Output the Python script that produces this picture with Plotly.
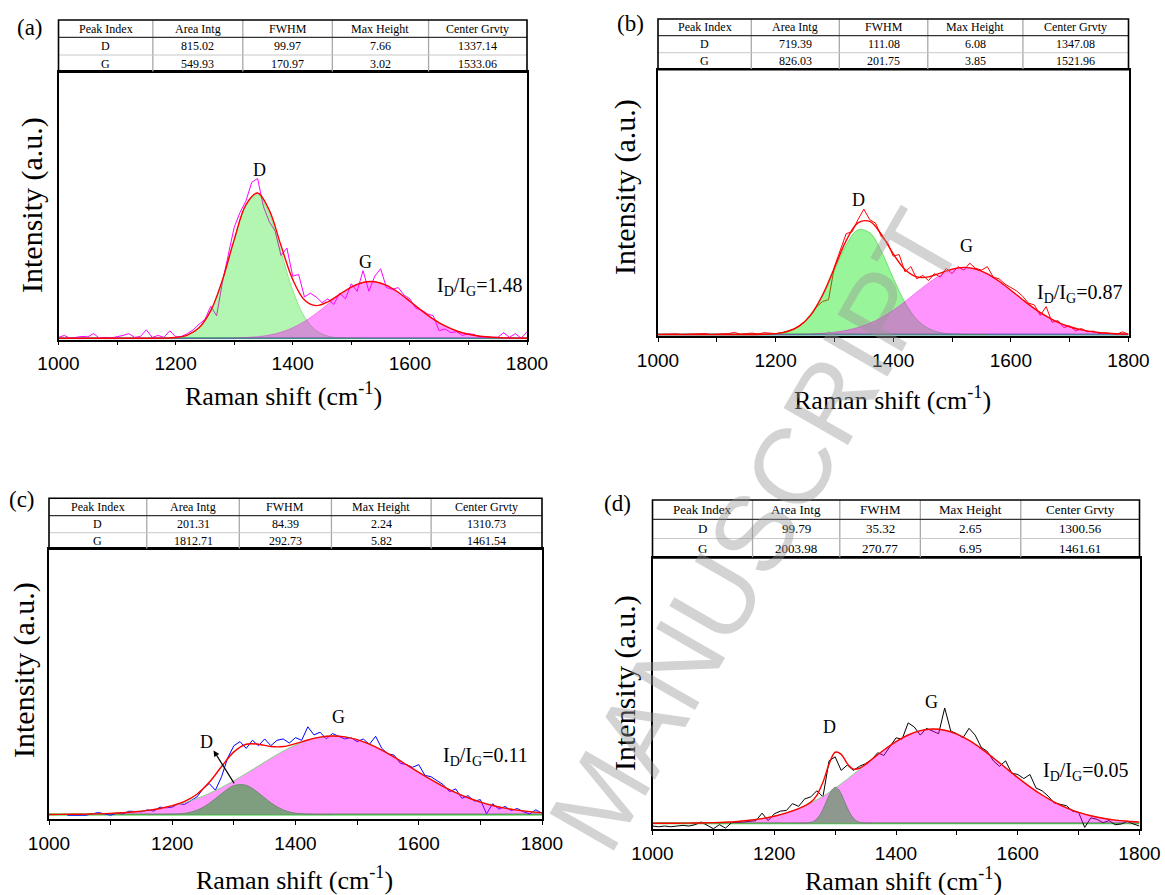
import plotly.graph_objects as go

W, H = 1165, 895

# ---------------- data ----------------
table_headers = ["Peak Index", "Area Intg", "FWHM", "Max Height", "Center Grvty"]
peak_names = ["D", "G"]
table_a = [["815.02", "99.97", "7.66", "1337.14"], ["549.93", "170.97", "3.02", "1533.06"]]
table_b = [["719.39", "111.08", "6.08", "1347.08"], ["826.03", "201.75", "3.85", "1521.96"]]
table_c = [["201.31", "84.39", "2.24", "1310.73"], ["1812.71", "292.73", "5.82", "1461.54"]]
table_d = [["99.79", "35.32", "2.65", "1300.56"], ["2003.98", "270.77", "6.95", "1461.61"]]

panel_letters = ["(a)", "(b)", "(c)", "(d)"]
ratio_texts = ["I<sub>D</sub>/I<sub>G</sub>=1.48", "I<sub>D</sub>/I<sub>G</sub>=0.87",
               "I<sub>D</sub>/I<sub>G</sub>=0.11", "I<sub>D</sub>/I<sub>G</sub>=0.05"]
x_title = "Raman shift (cm<sup>-1</sup>)"
y_title = "Intensity (a.u.)"
x_tick_vals = [1000, 1100, 1200, 1300, 1400, 1500, 1600, 1700, 1800]
x_tick_text = ["1000", "", "1200", "", "1400", "", "1600", "", "1800"]

raw_x = list(range(1000, 1801, 10))
peak_x = list(range(1000, 1801, 20))

# panel (a)
raw_a = [0.05, 0.15, 0.00, 0.05, 0.10, 0.08, 0.25, 0.00, 0.05, 0.02,
         0.08, 0.15, 0.25, 0.05, 0.10, 0.45, 0.05, 0.15, 0.05, 0.40,
         0.08, 0.10, 0.25, 0.45, 0.75, 1.00, 1.70, 1.20, 3.00, 4.50,
         5.90, 6.70, 7.30, 8.30, 8.50, 7.00, 6.20, 5.70, 4.40, 4.80,
         3.30, 3.40, 2.20, 2.40, 2.20, 1.90, 2.10, 1.80, 2.40, 2.10,
         2.90, 2.50, 3.60, 2.50, 3.30, 3.70, 2.70, 2.60, 2.70, 2.30,
         2.10, 1.60, 1.50, 1.30, 1.20, 0.40, 0.50, 0.30, 0.35, 0.15,
         0.25, 0.20, 0.05, 0.10, 0.05, 0.05, 0.30, 0.05, 0.25, 0.00,
         0.35]
Dx_a = list(range(1160, 1521, 20))
Dy_a = [0.001, 0.008, 0.042, 0.171, 0.560, 1.470, 3.100, 5.230, 7.060, 7.640,
        6.630, 4.600, 2.560, 1.140, 0.410, 0.117, 0.027, 0.005, 0.0]
Gy_a = [0, 0, 0, 0, 0, 0, 0, 0, 0, 0, 0,
        0.001, 0.001, 0.003, 0.007, 0.017, 0.041, 0.088, 0.176, 0.327, 0.563,
        0.898, 1.328, 1.820, 2.312, 2.723, 2.971, 3.006, 2.819, 2.450, 1.974,
        1.474, 1.021, 0.655, 0.390, 0.215, 0.110, 0.052, 0.023, 0.009, 0.004]
fit_a = [0, 0, 0, 0, 0, 0, 0, 0, 0.001, 0.008, 0.042,
         0.171, 0.561, 1.473, 3.107, 5.247, 7.101, 7.728, 6.806, 4.927, 3.123,
         2.038, 1.738, 1.937, 2.339, 2.728, 2.971, 3.006, 2.819, 2.450, 1.974,
         1.474, 1.021, 0.655, 0.390, 0.215, 0.110, 0.052, 0.023, 0.009, 0.004]

# panel (b)
raw_b = [0.00, 0.02, 0.00, 0.03, 0.00, 0.02, 0.00, 0.03, 0.05, 0.00,
         0.02, 0.00, 0.05, 0.12, 0.02, 0.05, 0.08, 0.03, 0.10, 0.08,
         0.05, 0.10, 0.20, 0.30, 0.50, 0.75, 1.10, 1.60, 1.90, 2.00,
         3.90, 4.80, 5.80, 5.90, 6.60, 7.20, 6.60, 6.40, 5.60, 5.30,
         4.50, 4.60, 3.60, 3.90, 3.20, 3.40, 3.10, 3.50, 3.30, 3.80,
         3.50, 3.90, 3.70, 4.10, 3.80, 3.70, 3.90, 3.30, 3.20, 2.90,
         2.70, 2.50, 2.20, 1.80, 1.70, 1.10, 1.60, 0.70, 0.80, 0.40,
         0.50, 0.20, 0.35, 0.15, 0.20, 0.05, 0.10, 0.05, 0.02, 0.15,
         0.02]
Dx_b = list(range(1140, 1561, 20))
Dy_b = [0.0, 0.002, 0.011, 0.047, 0.161, 0.463, 1.106, 2.212, 3.695, 5.157, 6.012,
        5.856, 4.766, 3.241, 1.841, 0.874, 0.347, 0.115, 0.032, 0.007, 0.001, 0.0]
Gy_b = [0, 0, 0, 0, 0, 0, 0, 0,
        0.001, 0.001, 0.003, 0.008, 0.017, 0.036, 0.071, 0.134, 0.239, 0.404, 0.645,
        0.976, 1.398, 1.896, 2.436, 2.964, 3.415, 3.726, 3.849, 3.766, 3.488,
        3.060, 2.543, 2.000, 1.490, 1.051, 0.702, 0.444, 0.266, 0.151, 0.081,
        0.041, 0.020]
fit_b = [0, 0, 0, 0, 0, 0, 0, 0,
         0.003, 0.013, 0.050, 0.169, 0.480, 1.142, 2.283, 3.829, 5.396, 6.416, 6.501,
         5.742, 4.639, 3.737, 3.310, 3.311, 3.530, 3.758, 3.856, 3.767, 3.488,
         3.060, 2.543, 2.000, 1.490, 1.051, 0.702, 0.444, 0.266, 0.151, 0.081,
         0.041, 0.020]

# panel (c)
raw_c = [None, None, None, -0.05, -0.05, 0.00, -0.05, 0.05, 0.15, 0.05,
         -0.05, 0.10, 0.05, 0.25, 0.20, 0.20, 0.35, 0.25, 0.55, 0.50,
         0.55, 0.80, 0.75, 1.05, 1.30, 1.90, 2.30, 1.80, 2.80, 4.20,
         5.10, 5.40, 4.90, 5.50, 5.10, 5.60, 5.10, 5.50, 5.60, 5.30,
         5.70, 5.50, 6.50, 5.90, 6.10, 5.60, 6.00, 5.80, 5.60, 5.70,
         5.40, 5.60, 5.20, 5.80, 4.90, 4.50, 4.40, 3.80, 3.70, 3.50,
         3.70, 2.90, 2.80, 2.50, 2.20, 1.70, 1.90, 1.20, 1.40, 1.00,
         1.10, 0.05, 0.80, 0.40, 0.60, 0.30, 0.45, 0.20, 0.05, 0.35,
         0.10]
Dx_c = list(range(1160, 1461, 20))
Dy_c = [0.0, 0.003, 0.019, 0.091, 0.319, 0.822, 1.551, 2.142, 2.166, 1.605,
        0.871, 0.346, 0.101, 0.021, 0.003, 0.0]
Gy_c = [0.006, 0.011, 0.019, 0.032, 0.052, 0.085, 0.134, 0.205, 0.307, 0.448,
        0.637, 0.881, 1.189, 1.564, 2.004, 2.502, 3.044, 3.608, 4.170, 4.693,
        5.149, 5.504, 5.733, 5.820, 5.756, 5.548, 5.211, 4.769, 4.253, 3.696,
        3.130, 2.583, 2.077, 1.627, 1.243, 0.924, 0.670, 0.473, 0.326, 0.219,
        0.143]
fit_c = [0.006, 0.011, 0.019, 0.032, 0.052, 0.085, 0.134, 0.205, 0.307, 0.451,
         0.656, 0.972, 1.508, 2.386, 3.555, 4.644, 5.210, 5.213, 5.041, 5.039,
         5.250, 5.525, 5.736, 5.820, 5.756, 5.548, 5.211, 4.769, 4.253, 3.696,
         3.130, 2.583, 2.077, 1.627, 1.243, 0.924, 0.670, 0.473, 0.326, 0.219,
         0.143]

# panel (d)
raw_d = [-0.20, -0.25, -0.20, -0.25, -0.20, -0.15, -0.20, -0.10, 0.10, -0.15,
         -0.40, -0.10, -0.35, 0.05, 0.05, 0.10, 0.15, 0.20, 0.75, 0.20,
         0.70, 0.90, 0.95, 1.45, 1.25, 1.80, 1.95, 2.40, 1.95, 4.60,
         4.90, 3.90, 4.30, 3.90, 4.20, 4.40, 4.70, 5.20, 5.00, 5.70,
         6.30, 6.20, 7.40, 7.10, 6.50, 7.00, 6.80, 6.60, 8.50, 6.80,
         6.60, 6.30, 7.00, 6.50, 5.60, 5.30, 4.60, 4.20, 4.60, 3.70,
         3.60, 3.30, 3.60, 2.60, 2.40, 2.00, 1.50, 1.40, 1.30, 0.90,
         0.80, -0.30, 0.40, 0.30, 0.05, 0.20, -0.10, -0.05, 0.15, -0.05,
         -0.20]
Dx_d = list(range(1240, 1361, 5))
Dy_d = [0.001, 0.003, 0.009, 0.026, 0.068, 0.160, 0.333, 0.620, 1.036, 1.547,
        2.068, 2.474, 2.648, 2.536, 2.174, 1.667, 1.144, 0.703, 0.386, 0.190,
        0.084, 0.033, 0.012, 0.004, 0.001]
Gy_d = [0.002, 0.004, 0.008, 0.016, 0.028, 0.049, 0.084, 0.139, 0.223, 0.346,
        0.522, 0.765, 1.085, 1.494, 1.997, 2.588, 3.255, 3.973, 4.703, 5.403,
        6.021, 6.509, 6.828, 6.949, 6.862, 6.573, 6.109, 5.509, 4.819, 4.091,
        3.369, 2.691, 2.086, 1.569, 1.145, 0.810, 0.557, 0.371, 0.240, 0.150,
        0.091]
fit_x_d = [1000, 1020, 1040, 1060, 1080, 1100, 1120, 1140, 1160, 1180, 1200, 1220,
           1240, 1250, 1260, 1270, 1280, 1290, 1300, 1310, 1320, 1330, 1340, 1350, 1360,
           1380, 1400, 1420, 1440, 1460, 1480, 1500, 1520, 1540, 1560, 1580, 1600,
           1620, 1640, 1660, 1680, 1700, 1720, 1740, 1760, 1780, 1800]
fit_d = [0.002, 0.004, 0.008, 0.016, 0.028, 0.049, 0.084, 0.139, 0.223, 0.346, 0.522, 0.765,
         1.086, 1.290, 1.562, 2.068, 3.033, 4.348, 5.236, 5.084, 4.399, 3.996, 4.057, 4.342, 4.704,
         5.403, 6.021, 6.509, 6.828, 6.949, 6.862, 6.573, 6.109, 5.509, 4.819, 4.091, 3.369,
         2.691, 2.086, 1.569, 1.145, 0.810, 0.557, 0.371, 0.240, 0.150, 0.091]

# label positions (data units)
label_D = [(1344, 8.93), (1341, 7.73), (1256, 5.34), (1291, 7.07)]
label_G = [(1525, 4.07), (1525, 5.08), (1470, 7.20), (1458, 8.93)]
label_R = [(1719, 2.75), (1717, 2.35), (1708, 4.30), (1712, 3.80)]

# ---------------- layout constants (pixels) ----------------
cfg = [
    dict(x0=58.5, x1=527.0, rows=[20.0, 37.3, 55.0, 72.3], axis_y=339.5, yr=[-0.064, 14.15],
         cols=[0.2014, 0.3934, 0.5845, 0.7899], letter=(30, 28), ytitle=(32, 205), xtitle=(283, 394), tf=12),
    dict(x0=658.0, x1=1128.5, rows=[19.0, 35.7, 52.7, 69.7], axis_y=336.0, yr=[-0.086, 15.22],
         cols=[0.1983, 0.3854, 0.5734, 0.7756], letter=(630, 24), ytitle=(625, 187), xtitle=(892, 398), tf=12),
    dict(x0=49.0, x1=542.0, rows=[498.3, 515.7, 532.7, 549.3], axis_y=819.0, yr=[-0.33, 19.65],
         cols=[0.1983, 0.3860, 0.5729, 0.7751], letter=(22, 499), ytitle=(24, 670), xtitle=(294, 878), tf=12),
    dict(x0=652.5, x1=1139.5, rows=[500.0, 519.3, 538.5, 558.0], axis_y=829.3, yr=[-0.44, 19.55],
         cols=[0.2054, 0.3846, 0.5500, 0.7562], letter=(617, 503), ytitle=(625, 683), xtitle=(903, 879), tf=13),
]

styles = [
    dict(raw="#ff00ff", Dfill="rgba(0,225,0,0.30)", Dline="rgba(0,200,0,0.35)",
         Gfill="rgba(255,0,255,0.40)", Gline="rgba(220,0,220,0.35)", base="rgb(50,150,140)", Dtop=False),
    dict(raw="#ff0000", Dfill="rgba(0,230,0,0.40)", Dline="rgba(0,200,0,0.45)",
         Gfill="rgba(255,0,255,0.42)", Gline="rgba(220,0,220,0.35)", base="rgb(50,150,140)", Dtop=False),
    dict(raw="#0000ff", Dfill="rgb(127,157,127)", Dline="rgb(110,140,110)",
         Gfill="rgba(255,0,255,0.40)", Gline="rgba(120,210,120,0.9)", base="rgb(40,205,40)", Dtop=True),
    dict(raw="#000000", Dfill="rgb(142,152,142)", Dline="rgb(125,135,125)",
         Gfill="rgba(255,0,255,0.40)", Gline="rgba(120,210,120,0.9)", base="rgb(60,200,60)", Dtop=True),
]

raws = [raw_a, raw_b, raw_c, raw_d]
Ds = [(Dx_a, Dy_a), (Dx_b, Dy_b), (Dx_c, Dy_c), (Dx_d, Dy_d)]
Gs = [Gy_a, Gy_b, Gy_c, Gy_d]
fits = [(peak_x, fit_a), (peak_x, fit_b), (peak_x, fit_c), (fit_x_d, fit_d)]
tables = [table_a, table_b, table_c, table_d]


def X(p):
    return p / W


def Y(p):
    return 1 - p / H


SERIF = "Liberation Serif"
SANS = "Liberation Sans"

fig = go.Figure()
shapes = []
annotations = []
layout_axes = {}

for i in range(4):
    c = cfg[i]
    s = styles[i]
    sfx = "" if i == 0 else str(i + 1)
    xa, ya = "x" + sfx, "y" + sfx

    fig.add_trace(go.Scatter(x=[1000, 1800], y=[0, 0], mode="lines",
                             line=dict(color=s["base"], width=2), xaxis=xa, yaxis=ya, hoverinfo="skip"))
    fig.add_trace(go.Scatter(x=raw_x, y=raws[i], mode="lines", line=dict(color=s["raw"], width=1),
                             xaxis=xa, yaxis=ya, connectgaps=False))
    Dtr = go.Scatter(x=Ds[i][0], y=Ds[i][1], mode="lines", fill="tozeroy", fillcolor=s["Dfill"],
                     line=dict(color=s["Dline"], width=1, shape="spline"), xaxis=xa, yaxis=ya)
    Gtr = go.Scatter(x=peak_x, y=Gs[i], mode="lines", fill="tozeroy", fillcolor=s["Gfill"],
                     line=dict(color=s["Gline"], width=1, shape="spline"), xaxis=xa, yaxis=ya)
    if s["Dtop"]:
        fig.add_trace(Gtr)
        fig.add_trace(Dtr)
    else:
        fig.add_trace(Dtr)
        fig.add_trace(Gtr)
    fig.add_trace(go.Scatter(x=fits[i][0], y=fits[i][1], mode="lines",
                             line=dict(color="#ff0000", width=1.4, shape="spline"), xaxis=xa, yaxis=ya))

    top, bottom = c["rows"][3], c["axis_y"]
    layout_axes["xaxis" + sfx] = dict(
        domain=[X(c["x0"]), X(c["x1"])], range=[1000, 1800], anchor=ya, automargin=False,
        showline=True, linecolor="black", linewidth=1.6, mirror=True,
        ticks="outside", ticklen=4, tickwidth=1.3, tickcolor="black",
        tickvals=x_tick_vals, ticktext=x_tick_text, showgrid=False, zeroline=False,
        tickfont=dict(family=SANS, size=19, color="black"), ticklabelstandoff=2)
    layout_axes["yaxis" + sfx] = dict(
        domain=[Y(bottom), Y(top)], range=c["yr"], anchor=xa, automargin=False,
        showline=True, linecolor="black", linewidth=1.6, mirror=True,
        showticklabels=False, ticks="", showgrid=False, zeroline=False)

    # ---- table ----
    x0, x1 = c["x0"], c["x1"]
    r = c["rows"]
    wdt = x1 - x0
    bounds = [x0] + [x0 + f * wdt for f in c["cols"]] + [x1]
    for cx in bounds[1:-1]:
        shapes.append(dict(type="line", xref="paper", yref="paper", x0=X(cx), x1=X(cx),
                           y0=Y(r[0]), y1=Y(r[3]), line=dict(color="#a8a8a8", width=1.3)))
    shapes.append(dict(type="line", xref="paper", yref="paper", x0=X(x0), x1=X(x1),
                       y0=Y(r[1]), y1=Y(r[1]), line=dict(color="#333333", width=1.2)))
    shapes.append(dict(type="line", xref="paper", yref="paper", x0=X(x0), x1=X(x1),
                       y0=Y(r[2]), y1=Y(r[2]), line=dict(color="#c8c8c8", width=1)))
    shapes.append(dict(type="rect", xref="paper", yref="paper", x0=X(x0), x1=X(x1),
                       y0=Y(r[3]), y1=Y(r[0]), line=dict(color="black", width=1.6)))
    rows_text = [table_headers] + [[peak_names[k]] + tables[i][k] for k in range(2)]
    for ri, row in enumerate(rows_text):
        yc = (r[ri] + r[ri + 1]) / 2
        for ci, txt in enumerate(row):
            xc = (bounds[ci] + bounds[ci + 1]) / 2
            annotations.append(dict(xref="paper", yref="paper", x=X(xc), y=Y(yc), text=txt,
                                    showarrow=False, xanchor="center", yanchor="middle",
                                    font=dict(family=SERIF, size=c["tf"], color="black")))

    annotations.append(dict(xref="paper", yref="paper", x=X(c["letter"][0]), y=Y(c["letter"][1]),
                            text=panel_letters[i], showarrow=False, xanchor="center", yanchor="middle",
                            font=dict(family=SERIF, size=23, color="black")))
    annotations.append(dict(xref="paper", yref="paper", x=X(c["ytitle"][0]), y=Y(c["ytitle"][1]),
                            text=y_title, showarrow=False, textangle=-90, xanchor="center", yanchor="middle",
                            font=dict(family=SERIF, size=30, color="black")))
    annotations.append(dict(xref="paper", yref="paper", x=X(c["xtitle"][0]), y=Y(c["xtitle"][1]),
                            text=x_title, showarrow=False, xanchor="center", yanchor="middle",
                            font=dict(family=SERIF, size=26, color="black")))
    for (lx, ly), txt in ((label_D[i], "D"), (label_G[i], "G")):
        annotations.append(dict(xref=xa, yref=ya, x=lx, y=ly, text=txt, showarrow=False,
                                xanchor="center", yanchor="middle",
                                font=dict(family=SERIF, size=18, color="black")))
    annotations.append(dict(xref=xa, yref=ya, x=label_R[i][0], y=label_R[i][1], text=ratio_texts[i],
                            showarrow=False, xanchor="center", yanchor="middle",
                            font=dict(family=SERIF, size=20, color="black")))

# arrow in panel (c) pointing to the D label
annotations.append(dict(xref="x3", yref="y3", x=1267, y=4.75, ax=1302, ay=2.2, axref="x3", ayref="y3",
                        text="", showarrow=True, arrowhead=2, arrowsize=1, arrowwidth=1.2,
                        arrowcolor="black"))

# watermark
annotations.append(dict(xref="paper", yref="paper", x=X(755), y=Y(530), text="MANUSCRIPT",
                        showarrow=False, textangle=-60, xanchor="center", yanchor="middle",
                        font=dict(family=SANS, size=108, color="rgba(150,150,150,0.42)")))

fig.update_layout(width=W, height=H, margin=dict(l=0, r=0, t=0, b=0, pad=0, autoexpand=False),
                  paper_bgcolor="white", plot_bgcolor="white", showlegend=False,
                  shapes=shapes, annotations=annotations, **layout_axes)

fig.write_html("out.html")
